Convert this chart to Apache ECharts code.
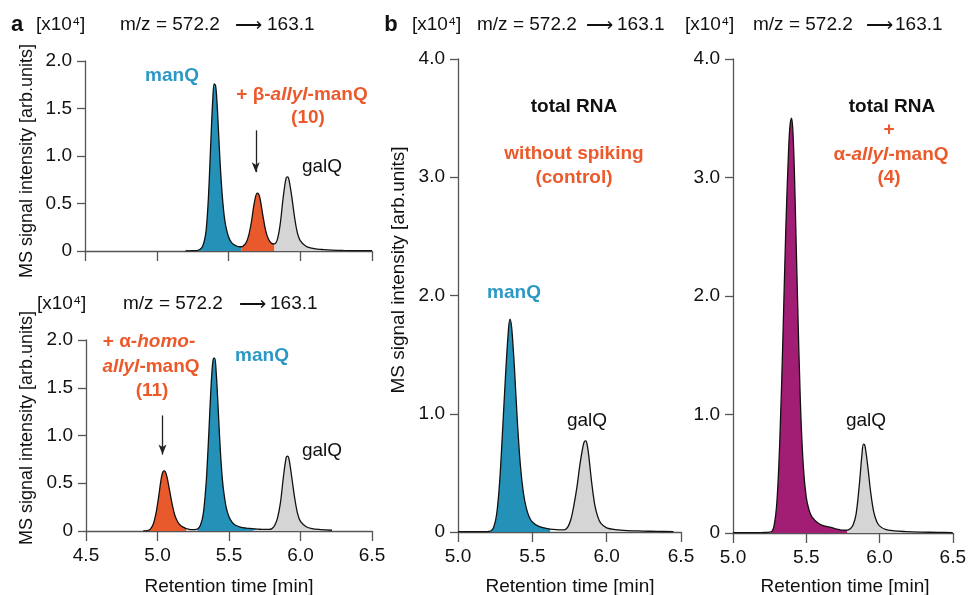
<!DOCTYPE html>
<html><head><meta charset="utf-8">
<script src="https://cdn.jsdelivr.net/npm/echarts@6/dist/echarts.min.js"></script>
<style>html,body{margin:0;padding:0;background:#fff}#c{width:969px;height:595px}</style>
</head><body><div id="c"></div>
<script>
// ---------- DATA ----------
// Panel a (top): + β-allyl-manQ (10)
const aTopTime = [5.20,5.26,5.28,5.30,5.32,5.34,5.35,5.36,5.37,5.38,5.39,5.40,5.41,5.42,5.43,5.44,5.45,5.46,5.47,5.48,5.50,5.52,5.54,5.56,5.58,5.59,5.60,5.62,5.64,5.66,5.68,5.70,5.71,5.72,5.74,5.76,5.78,5.80,5.82,5.84,5.86,5.88,5.90,5.91,5.92,5.94,5.96,5.98,6.00,6.04,6.08,6.12,6.16,6.22,6.30,6.40,6.50];
const aTopIntensity = [0.002,0.003,0.005,0.015,0.05,0.17,0.32,0.56,0.90,1.26,1.58,1.76,1.74,1.56,1.27,0.97,0.72,0.52,0.37,0.27,0.15,0.09,0.065,0.05,0.045,0.045,0.05,0.08,0.16,0.31,0.51,0.61,0.60,0.55,0.37,0.21,0.12,0.08,0.075,0.12,0.28,0.55,0.76,0.78,0.76,0.58,0.36,0.19,0.11,0.05,0.03,0.02,0.015,0.01,0.006,0.004,0.003];
const aTopPeakWindows = [[5.28,5.59],[5.59,5.82],[5.82,6.16]]; // manQ, compound 10, galQ

// Panel a (bottom): + α-homo-allyl-manQ (11)
const aBotTime = [4.90,4.93,4.95,4.97,4.99,5.00,5.01,5.02,5.03,5.04,5.05,5.06,5.07,5.08,5.09,5.10,5.12,5.14,5.16,5.18,5.20,5.22,5.24,5.26,5.28,5.30,5.32,5.34,5.35,5.36,5.37,5.38,5.39,5.40,5.41,5.42,5.43,5.44,5.45,5.46,5.48,5.50,5.52,5.54,5.58,5.62,5.66,5.70,5.74,5.78,5.80,5.82,5.84,5.86,5.88,5.90,5.91,5.92,5.94,5.96,5.98,6.00,6.04,6.08,6.14,6.22];
const aBotIntensity = [0.002,0.005,0.02,0.07,0.19,0.28,0.38,0.49,0.58,0.625,0.63,0.60,0.54,0.46,0.38,0.30,0.17,0.10,0.06,0.04,0.025,0.018,0.014,0.014,0.02,0.06,0.18,0.50,0.76,1.06,1.38,1.65,1.80,1.81,1.67,1.41,1.11,0.83,0.61,0.45,0.25,0.15,0.095,0.065,0.04,0.03,0.025,0.02,0.016,0.016,0.025,0.06,0.14,0.30,0.56,0.77,0.785,0.75,0.55,0.34,0.18,0.10,0.045,0.025,0.015,0.008];
const aBotPeakWindows = [[4.93,5.20],[5.28,5.70],[5.78,6.14]]; // compound 11, manQ, galQ

// Panel b (left): total RNA, without spiking
const bLeftTime = [5.00,5.10,5.20,5.22,5.24,5.26,5.28,5.30,5.32,5.34,5.35,5.36,5.37,5.38,5.40,5.42,5.44,5.46,5.48,5.50,5.54,5.58,5.62,5.66,5.70,5.72,5.74,5.76,5.78,5.80,5.82,5.84,5.85,5.86,5.87,5.88,5.90,5.92,5.94,5.96,6.00,6.06,6.14,6.24,6.34,6.45];
const bLeftIntensity = [0.003,0.003,0.004,0.008,0.04,0.15,0.42,0.86,1.33,1.72,1.80,1.74,1.58,1.38,0.92,0.56,0.33,0.20,0.125,0.085,0.05,0.035,0.025,0.02,0.018,0.02,0.045,0.11,0.23,0.38,0.57,0.72,0.765,0.77,0.73,0.64,0.41,0.23,0.13,0.075,0.035,0.02,0.012,0.008,0.005,0.004];
const bLeftPeakWindows = [[5.22,5.62],[5.72,6.14]]; // manQ, galQ

// Panel b (right): total RNA + α-allyl-manQ (4)
const bRightTime = [5.00,5.10,5.20,5.26,5.28,5.30,5.32,5.34,5.36,5.38,5.39,5.40,5.41,5.42,5.43,5.44,5.46,5.48,5.50,5.52,5.54,5.58,5.62,5.66,5.70,5.74,5.78,5.80,5.82,5.84,5.86,5.88,5.89,5.90,5.92,5.94,5.96,5.98,6.00,6.04,6.10,6.18,6.28,6.40,6.50];
const bRightIntensity = [0.003,0.003,0.004,0.01,0.06,0.27,0.80,1.62,2.55,3.25,3.45,3.50,3.36,3.00,2.50,2.00,1.10,0.56,0.30,0.19,0.135,0.085,0.06,0.05,0.035,0.025,0.025,0.035,0.07,0.16,0.38,0.66,0.75,0.74,0.56,0.34,0.18,0.10,0.06,0.03,0.018,0.012,0.008,0.005,0.004];
const bRightPeakWindows = [[5.26,5.78],[5.78,6.18]]; // manQ+4, galQ

// Arrows marking the spiked compound: [time, from intensity, to intensity]
const aTopArrow = [5.69, 1.27, 0.83];
const aBotArrow = [5.035, 1.21, 0.80];

// Axis tick settings
const aYTicks = [0, 2.0, 0.5];
const bYTicks = [0, 4.0, 1.0];
const aXRange = [4.5, 6.5];
const bXRange = [5.0, 6.5];

// ---------- STYLE ----------
const BLUE = '#2391b8', ORANGE = '#e8592b', GRAY = '#d4d5d4', PURPLE = '#a21d74';
const LBLUE = '#2b98c6', LORANGE = '#ec5a2c';
const FONT = "'Liberation Sans', Arial, Helvetica, sans-serif";
const AX = '#555';

const panels = [
  {t: aTopTime, v: aTopIntensity, w: aTopPeakWindows, c: [BLUE, ORANGE, GRAY], grid: {left: 85, top: 61, width: 287, height: 190}, xr: aXRange, yt: aYTicks, xl: false, arrow: aTopArrow},
  {t: aBotTime, v: aBotIntensity, w: aBotPeakWindows, c: [ORANGE, BLUE, GRAY], grid: {left: 86, top: 340, width: 286, height: 191}, xr: aXRange, yt: aYTicks, xl: true, arrow: aBotArrow},
  {t: bLeftTime, v: bLeftIntensity, w: bLeftPeakWindows, c: [BLUE, GRAY], grid: {left: 458, top: 59, width: 223, height: 473}, xr: bXRange, yt: bYTicks, xl: true},
  {t: bRightTime, v: bRightIntensity, w: bRightPeakWindows, c: [PURPLE, GRAY], grid: {left: 733, top: 59, width: 223, height: 474}, xr: bXRange, yt: bYTicks, xl: true}
];

const grids = [], xAxes = [], yAxes = [], series = [];
const SMOOTH = 0.35;
panels.forEach((p, i) => {
  grids.push(Object.assign({containLabel: false}, p.grid));
  xAxes.push({
    type: 'value', gridIndex: i, min: p.xr[0], max: p.xr[1], interval: 0.5,
    axisLine: {show: true, onZero: false, lineStyle: {color: AX, width: 1.3}},
    axisTick: {show: true, inside: false, length: 10, lineStyle: {color: AX, width: 1.3}},
    axisLabel: {show: p.xl, margin: 15, fontSize: 19, color: '#111', fontFamily: FONT, formatter: v => v.toFixed(1)},
    splitLine: {show: false}
  });
  yAxes.push({
    type: 'value', gridIndex: i, min: p.yt[0], max: p.yt[1], interval: p.yt[2],
    axisLine: {show: true, onZero: false, lineStyle: {color: AX, width: 1.3}},
    axisTick: {show: true, length: 8, lineStyle: {color: AX, width: 1.3}},
    axisLabel: {margin: 13, fontSize: 19, color: '#111', fontFamily: FONT, formatter: v => v === 0 ? '0' : v.toFixed(1)},
    splitLine: {show: false}
  });
  const pairs = p.t.map((t, k) => [t, p.v[k]]);
  p.w.forEach((win, k) => {
    series.push({
      type: 'line', xAxisIndex: i, yAxisIndex: i, silent: true, z: 2,
      data: pairs.filter(d => d[0] >= win[0] - 1e-9 && d[0] <= win[1] + 1e-9),
      smooth: SMOOTH, symbol: 'none', lineStyle: {width: 0},
      areaStyle: {color: p.c[k], opacity: 1, origin: 'start'}
    });
  });
  const s = {
    type: 'line', xAxisIndex: i, yAxisIndex: i, silent: true, z: 3,
    data: pairs, smooth: SMOOTH, symbol: 'none',
    lineStyle: {color: '#111', width: 1.3}
  };
  if (p.arrow) {
    s.markLine = {
      silent: true, symbol: ['none', 'arrow'], symbolSize: [6, 10], animation: false,
      label: {show: false},
      lineStyle: {color: '#222', width: 1.3, type: 'solid'},
      data: [[{coord: [p.arrow[0], p.arrow[1]]}, {coord: [p.arrow[0], p.arrow[2]]}]]
    };
  }
  series.push(s);
});

function txt(x, y, text, opt) {
  opt = opt || {};
  return {
    type: 'text', x: x, y: y, rotation: opt.rot || 0, silent: true, z: 10,
    style: {
      text: text, fill: opt.color || '#111',
      font: (opt.italic ? 'italic ' : '') + (opt.bold ? 'bold ' : '') + (opt.size || 19) + 'px ' + FONT,
      align: opt.align || 'center', verticalAlign: 'middle',
      textAlign: opt.align || 'center', textVerticalAlign: 'middle',
      rich: opt.rich
    }
  };
}
const boldO = {fill: LORANGE, color: LORANGE, fontWeight: 'bold', fontSize: 19, fontFamily: FONT};
const boldOI = Object.assign({}, boldO, {fontStyle: 'italic'});
const richO = {o: boldO, i: boldOI};

const graphics = [
  // headers
  txt(17, 25, 'a', {bold: true, size: 22}),
  txt(36, 25, '[x10⁴]', {align: 'left'}),
  txt(120, 25, 'm/z = 572.2', {align: 'left'}),
  txt(248, 26, '⟶', {size: 19}),
  txt(267, 25, '163.1', {align: 'left'}),
  txt(37, 304, '[x10⁴]', {align: 'left'}),
  txt(123, 304, 'm/z = 572.2', {align: 'left'}),
  txt(252, 305, '⟶', {size: 19}),
  txt(270, 304, '163.1', {align: 'left'}),
  txt(391, 25, 'b', {bold: true, size: 22}),
  txt(412, 25, '[x10⁴]', {align: 'left'}),
  txt(477, 25, 'm/z = 572.2', {align: 'left'}),
  txt(599, 26, '⟶', {size: 19}),
  txt(617, 25, '163.1', {align: 'left'}),
  txt(685, 25, '[x10⁴]', {align: 'left'}),
  txt(753, 25, 'm/z = 572.2', {align: 'left'}),
  txt(879, 26, '⟶', {size: 19}),
  txt(895, 25, '163.1', {align: 'left'}),
  // axis titles
  txt(27, 161, 'MS signal intensity [arb.units]', {rot: Math.PI / 2, size: 18}),
  txt(27, 428, 'MS signal intensity [arb.units]', {rot: Math.PI / 2, size: 18}),
  txt(399, 270, 'MS signal intensity [arb.units]', {rot: Math.PI / 2}),
  txt(229, 587, 'Retention time [min]'),
  txt(570, 587, 'Retention time [min]'),
  txt(845, 587, 'Retention time [min]'),
  // panel a top labels
  txt(172, 76, 'manQ', {bold: true, color: LBLUE}),
  txt(302, 95, '{o|+ β-}{i|allyl}{o|-manQ}', {rich: richO}),
  txt(308, 118, '(10)', {bold: true, color: LORANGE}),
  txt(322, 167, 'galQ'),
  // panel a bottom labels
  txt(149, 342, '{o|+ α-}{i|homo-}', {rich: richO}),
  txt(151, 367, '{i|allyl}{o|-manQ}', {rich: richO}),
  txt(152, 391, '(11)', {bold: true, color: LORANGE}),
  txt(262, 356, 'manQ', {bold: true, color: LBLUE}),
  txt(322, 451, 'galQ'),
  // panel b left labels
  txt(574, 107, 'total RNA', {bold: true}),
  txt(574, 154, 'without spiking', {bold: true, color: LORANGE}),
  txt(574, 178, '(control)', {bold: true, color: LORANGE}),
  txt(514, 293, 'manQ', {bold: true, color: LBLUE}),
  txt(587, 421, 'galQ'),
  // panel b right labels
  txt(892, 107, 'total RNA', {bold: true}),
  txt(889, 130, '+', {bold: true, color: LORANGE}),
  txt(891, 155, '{o|α-}{i|allyl}{o|-manQ}', {rich: richO}),
  txt(889, 178, '(4)', {bold: true, color: LORANGE}),
  txt(866, 421, 'galQ')
];

const chart = echarts.init(document.getElementById('c'), null, {renderer: 'canvas'});
chart.setOption({
  animation: false,
  backgroundColor: '#fff',
  grid: grids, xAxis: xAxes, yAxis: yAxes, series: series,
  graphic: graphics
});
</script>
</body></html>
